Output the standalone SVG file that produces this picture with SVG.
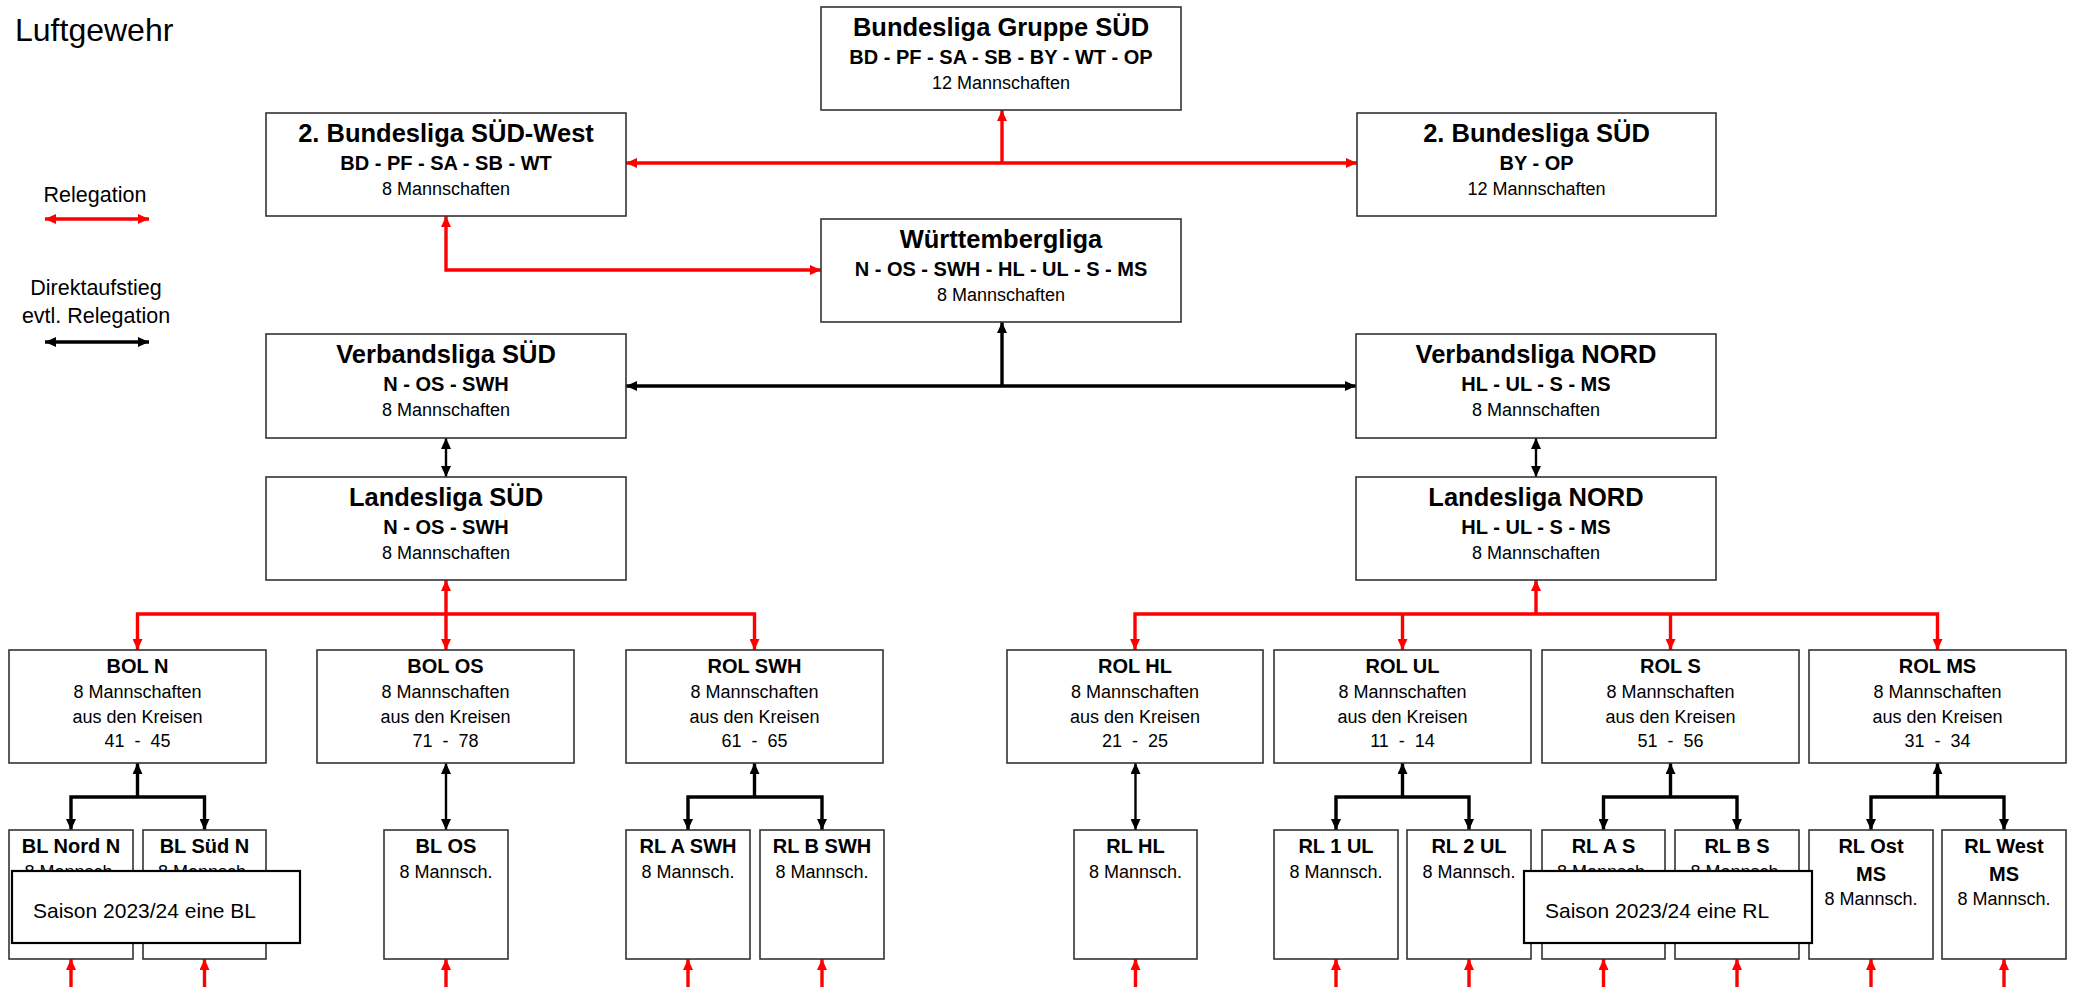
<svg xmlns="http://www.w3.org/2000/svg" width="2073" height="987" viewBox="0 0 2073 987">
<defs>
<style>
.box{fill:#fff;stroke:#333;stroke-width:1.6}
.note{fill:#fff;stroke:#000;stroke-width:2.2}
text{font-family:"Liberation Sans",Arial,sans-serif;fill:#000}
.c{text-anchor:middle}
.h1{font-size:25.5px;font-weight:bold}
.h2{font-size:20px;font-weight:bold}
.n{font-size:18px}
.lg{font-size:21.5px}
.red{stroke:#ff0000;stroke-width:3.4;fill:none}
.blk{stroke:#000;stroke-width:3.4;fill:none}
.blk2{stroke:#000;stroke-width:2.4;fill:none}
</style>
<marker id="ar" viewBox="0 0 11 10" refX="11" refY="5" markerWidth="11" markerHeight="10" markerUnits="userSpaceOnUse" orient="auto-start-reverse"><path d="M0,0 L11,5 L0,10 z" fill="#ff0000"/></marker>
<marker id="ab" viewBox="0 0 11 10" refX="11" refY="5" markerWidth="11" markerHeight="10" markerUnits="userSpaceOnUse" orient="auto-start-reverse"><path d="M0,0 L11,5 L0,10 z" fill="#000"/></marker>
</defs>
<rect width="2073" height="987" fill="#fff"/>

<text x="15" y="41" style="font-size:32px">Luftgewehr</text>

<g id="legend">
<text class="c lg" x="95" y="202">Relegation</text>
<line class="red" x1="45" y1="219" x2="149" y2="219" marker-start="url(#ar)" marker-end="url(#ar)"/>
<text class="c lg" x="96" y="295">Direktaufstieg</text>
<text class="c lg" x="96" y="323">evtl. Relegation</text>
<line class="blk" x1="45" y1="342" x2="149" y2="342" marker-start="url(#ab)" marker-end="url(#ab)"/>
</g>

<g id="connectors">
<line class="red" x1="626" y1="163" x2="1357" y2="163" marker-start="url(#ar)" marker-end="url(#ar)"/>
<line class="red" x1="1002" y1="163" x2="1002" y2="110" marker-end="url(#ar)"/>
<polyline class="red" points="446,216 446,270 821,270" marker-start="url(#ar)" marker-end="url(#ar)"/>
<line class="blk" x1="626" y1="386" x2="1356" y2="386" marker-start="url(#ab)" marker-end="url(#ab)"/>
<line class="blk" x1="1002" y1="386" x2="1002" y2="322" marker-end="url(#ab)"/>
<line class="blk2" x1="446" y1="438" x2="446" y2="477" marker-start="url(#ab)" marker-end="url(#ab)"/>
<line class="blk2" x1="1536" y1="438" x2="1536" y2="477" marker-start="url(#ab)" marker-end="url(#ab)"/>
<line class="red" x1="446" y1="580" x2="446" y2="650" marker-start="url(#ar)" marker-end="url(#ar)"/>
<polyline class="red" points="137.5,650 137.5,614 754.5,614 754.5,650" marker-start="url(#ar)" marker-end="url(#ar)"/>
<line class="red" x1="1536" y1="614" x2="1536" y2="580" marker-end="url(#ar)"/>
<polyline class="red" points="1135,650 1135,614 1937.5,614 1937.5,650" marker-start="url(#ar)" marker-end="url(#ar)"/>
<line class="red" x1="1402.5" y1="614" x2="1402.5" y2="650" marker-end="url(#ar)"/>
<line class="red" x1="1670.5" y1="614" x2="1670.5" y2="650" marker-end="url(#ar)"/>
<line class="blk" x1="137.5" y1="797" x2="137.5" y2="763" marker-end="url(#ab)"/>
<polyline class="blk" points="71,830 71,797 204.5,797 204.5,830" marker-start="url(#ab)" marker-end="url(#ab)"/>
<line class="blk2" x1="446" y1="763" x2="446" y2="830" marker-start="url(#ab)" marker-end="url(#ab)"/>
<line class="blk" x1="754.5" y1="797" x2="754.5" y2="763" marker-end="url(#ab)"/>
<polyline class="blk" points="688,830 688,797 822,797 822,830" marker-start="url(#ab)" marker-end="url(#ab)"/>
<line class="blk2" x1="1135.5" y1="763" x2="1135.5" y2="830" marker-start="url(#ab)" marker-end="url(#ab)"/>
<line class="blk" x1="1402.5" y1="797" x2="1402.5" y2="763" marker-end="url(#ab)"/>
<polyline class="blk" points="1336,830 1336,797 1469,797 1469,830" marker-start="url(#ab)" marker-end="url(#ab)"/>
<line class="blk" x1="1670.5" y1="797" x2="1670.5" y2="763" marker-end="url(#ab)"/>
<polyline class="blk" points="1603.5,830 1603.5,797 1737,797 1737,830" marker-start="url(#ab)" marker-end="url(#ab)"/>
<line class="blk" x1="1937.5" y1="797" x2="1937.5" y2="763" marker-end="url(#ab)"/>
<polyline class="blk" points="1871,830 1871,797 2004,797 2004,830" marker-start="url(#ab)" marker-end="url(#ab)"/>
<line class="red" x1="71" y1="987" x2="71" y2="959" marker-end="url(#ar)"/>
<line class="red" x1="204.5" y1="987" x2="204.5" y2="959" marker-end="url(#ar)"/>
<line class="red" x1="446" y1="987" x2="446" y2="959" marker-end="url(#ar)"/>
<line class="red" x1="688" y1="987" x2="688" y2="959" marker-end="url(#ar)"/>
<line class="red" x1="822" y1="987" x2="822" y2="959" marker-end="url(#ar)"/>
<line class="red" x1="1135.5" y1="987" x2="1135.5" y2="959" marker-end="url(#ar)"/>
<line class="red" x1="1336" y1="987" x2="1336" y2="959" marker-end="url(#ar)"/>
<line class="red" x1="1469" y1="987" x2="1469" y2="959" marker-end="url(#ar)"/>
<line class="red" x1="1603.5" y1="987" x2="1603.5" y2="959" marker-end="url(#ar)"/>
<line class="red" x1="1737" y1="987" x2="1737" y2="959" marker-end="url(#ar)"/>
<line class="red" x1="1871" y1="987" x2="1871" y2="959" marker-end="url(#ar)"/>
<line class="red" x1="2004" y1="987" x2="2004" y2="959" marker-end="url(#ar)"/>
</g>

<g id="bl-gruppe-sued">
<rect class="box" x="821" y="7" width="360" height="103"/>
<text class="c h1" x="1001" y="36">Bundesliga Gruppe SÜD</text>
<text class="c h2" x="1001" y="64">BD - PF - SA - SB - BY - WT - OP</text>
<text class="c n" x="1001" y="89">12 Mannschaften</text>
</g>
<g id="bl2-sued-west">
<rect class="box" x="266" y="113" width="360" height="103"/>
<text class="c h1" x="446" y="142">2. Bundesliga SÜD-West</text>
<text class="c h2" x="446" y="170">BD - PF - SA - SB - WT</text>
<text class="c n" x="446" y="195">8 Mannschaften</text>
</g>
<g id="bl2-sued">
<rect class="box" x="1357" y="113" width="359" height="103"/>
<text class="c h1" x="1536.5" y="142">2. Bundesliga SÜD</text>
<text class="c h2" x="1536.5" y="170">BY - OP</text>
<text class="c n" x="1536.5" y="195">12 Mannschaften</text>
</g>
<g id="wuerttembergliga">
<rect class="box" x="821" y="219" width="360" height="103"/>
<text class="c h1" x="1001" y="248">Württembergliga</text>
<text class="c h2" x="1001" y="276">N - OS - SWH - HL - UL - S - MS</text>
<text class="c n" x="1001" y="301">8 Mannschaften</text>
</g>
<g id="verbandsliga-sued">
<rect class="box" x="266" y="334" width="360" height="104"/>
<text class="c h1" x="446" y="363">Verbandsliga SÜD</text>
<text class="c h2" x="446" y="391">N - OS - SWH</text>
<text class="c n" x="446" y="416">8 Mannschaften</text>
</g>
<g id="verbandsliga-nord">
<rect class="box" x="1356" y="334" width="360" height="104"/>
<text class="c h1" x="1536" y="363">Verbandsliga NORD</text>
<text class="c h2" x="1536" y="391">HL - UL - S - MS</text>
<text class="c n" x="1536" y="416">8 Mannschaften</text>
</g>
<g id="landesliga-sued">
<rect class="box" x="266" y="477" width="360" height="103"/>
<text class="c h1" x="446" y="506">Landesliga SÜD</text>
<text class="c h2" x="446" y="534">N - OS - SWH</text>
<text class="c n" x="446" y="559">8 Mannschaften</text>
</g>
<g id="landesliga-nord">
<rect class="box" x="1356" y="477" width="360" height="103"/>
<text class="c h1" x="1536" y="506">Landesliga NORD</text>
<text class="c h2" x="1536" y="534">HL - UL - S - MS</text>
<text class="c n" x="1536" y="559">8 Mannschaften</text>
</g>

<g id="bol-n">
<rect class="box" x="9" y="650" width="257" height="113"/>
<text class="c h2" x="137.5" y="673">BOL N</text>
<text class="c n" x="137.5" y="698">8 Mannschaften</text>
<text class="c n" x="137.5" y="723">aus den Kreisen</text>
<text class="c n" x="137.5" y="747" xml:space="preserve">41  -  45</text>
</g>
<g id="bol-os">
<rect class="box" x="317" y="650" width="257" height="113"/>
<text class="c h2" x="445.5" y="673">BOL OS</text>
<text class="c n" x="445.5" y="698">8 Mannschaften</text>
<text class="c n" x="445.5" y="723">aus den Kreisen</text>
<text class="c n" x="445.5" y="747" xml:space="preserve">71  -  78</text>
</g>
<g id="rol-swh">
<rect class="box" x="626" y="650" width="257" height="113"/>
<text class="c h2" x="754.5" y="673">ROL SWH</text>
<text class="c n" x="754.5" y="698">8 Mannschaften</text>
<text class="c n" x="754.5" y="723">aus den Kreisen</text>
<text class="c n" x="754.5" y="747" xml:space="preserve">61  -  65</text>
</g>
<g id="rol-hl">
<rect class="box" x="1007" y="650" width="256" height="113"/>
<text class="c h2" x="1135" y="673">ROL HL</text>
<text class="c n" x="1135" y="698">8 Mannschaften</text>
<text class="c n" x="1135" y="723">aus den Kreisen</text>
<text class="c n" x="1135" y="747" xml:space="preserve">21  -  25</text>
</g>
<g id="rol-ul">
<rect class="box" x="1274" y="650" width="257" height="113"/>
<text class="c h2" x="1402.5" y="673">ROL UL</text>
<text class="c n" x="1402.5" y="698">8 Mannschaften</text>
<text class="c n" x="1402.5" y="723">aus den Kreisen</text>
<text class="c n" x="1402.5" y="747" xml:space="preserve">11  -  14</text>
</g>
<g id="rol-s">
<rect class="box" x="1542" y="650" width="257" height="113"/>
<text class="c h2" x="1670.5" y="673">ROL S</text>
<text class="c n" x="1670.5" y="698">8 Mannschaften</text>
<text class="c n" x="1670.5" y="723">aus den Kreisen</text>
<text class="c n" x="1670.5" y="747" xml:space="preserve">51  -  56</text>
</g>
<g id="rol-ms">
<rect class="box" x="1809" y="650" width="257" height="113"/>
<text class="c h2" x="1937.5" y="673">ROL MS</text>
<text class="c n" x="1937.5" y="698">8 Mannschaften</text>
<text class="c n" x="1937.5" y="723">aus den Kreisen</text>
<text class="c n" x="1937.5" y="747" xml:space="preserve">31  -  34</text>
</g>

<g id="bl-nord-n">
<rect class="box" x="9" y="830" width="124" height="129"/>
<text class="c h2" x="71" y="853">BL Nord N</text>
<text class="c n" x="71" y="878">8 Mannsch.</text>
</g>
<g id="bl-sued-n">
<rect class="box" x="143" y="830" width="123" height="129"/>
<text class="c h2" x="204.5" y="853">BL Süd N</text>
<text class="c n" x="204.5" y="878">8 Mannsch.</text>
</g>
<g id="bl-os">
<rect class="box" x="384" y="830" width="124" height="129"/>
<text class="c h2" x="446" y="853">BL OS</text>
<text class="c n" x="446" y="878">8 Mannsch.</text>
</g>
<g id="rl-a-swh">
<rect class="box" x="626" y="830" width="124" height="129"/>
<text class="c h2" x="688" y="853">RL A SWH</text>
<text class="c n" x="688" y="878">8 Mannsch.</text>
</g>
<g id="rl-b-swh">
<rect class="box" x="760" y="830" width="124" height="129"/>
<text class="c h2" x="822" y="853">RL B SWH</text>
<text class="c n" x="822" y="878">8 Mannsch.</text>
</g>
<g id="rl-hl">
<rect class="box" x="1074" y="830" width="123" height="129"/>
<text class="c h2" x="1135.5" y="853">RL HL</text>
<text class="c n" x="1135.5" y="878">8 Mannsch.</text>
</g>
<g id="rl-1-ul">
<rect class="box" x="1274" y="830" width="124" height="129"/>
<text class="c h2" x="1336" y="853">RL 1 UL</text>
<text class="c n" x="1336" y="878">8 Mannsch.</text>
</g>
<g id="rl-2-ul">
<rect class="box" x="1407" y="830" width="124" height="129"/>
<text class="c h2" x="1469" y="853">RL 2 UL</text>
<text class="c n" x="1469" y="878">8 Mannsch.</text>
</g>
<g id="rl-a-s">
<rect class="box" x="1542" y="830" width="123" height="129"/>
<text class="c h2" x="1603.5" y="853">RL A S</text>
<text class="c n" x="1603.5" y="878">8 Mannsch.</text>
</g>
<g id="rl-b-s">
<rect class="box" x="1675" y="830" width="124" height="129"/>
<text class="c h2" x="1737" y="853">RL B S</text>
<text class="c n" x="1737" y="878">8 Mannsch.</text>
</g>
<g id="rl-ost-ms">
<rect class="box" x="1809" y="830" width="124" height="129"/>
<text class="c h2" x="1871" y="853">RL Ost</text>
<text class="c h2" x="1871" y="881">MS</text>
<text class="c n" x="1871" y="905">8 Mannsch.</text>
</g>
<g id="rl-west-ms">
<rect class="box" x="1942" y="830" width="124" height="129"/>
<text class="c h2" x="2004" y="853">RL West</text>
<text class="c h2" x="2004" y="881">MS</text>
<text class="c n" x="2004" y="905">8 Mannsch.</text>
</g>

<g id="note-bl">
<rect class="note" x="12" y="871" width="288" height="72"/>
<text x="33" y="918" style="font-size:21px">Saison 2023/24 eine BL</text>
</g>
<g id="note-rl">
<rect class="note" x="1524" y="871" width="288" height="72"/>
<text x="1545" y="918" style="font-size:21px">Saison 2023/24 eine RL</text>
</g>
</svg>
